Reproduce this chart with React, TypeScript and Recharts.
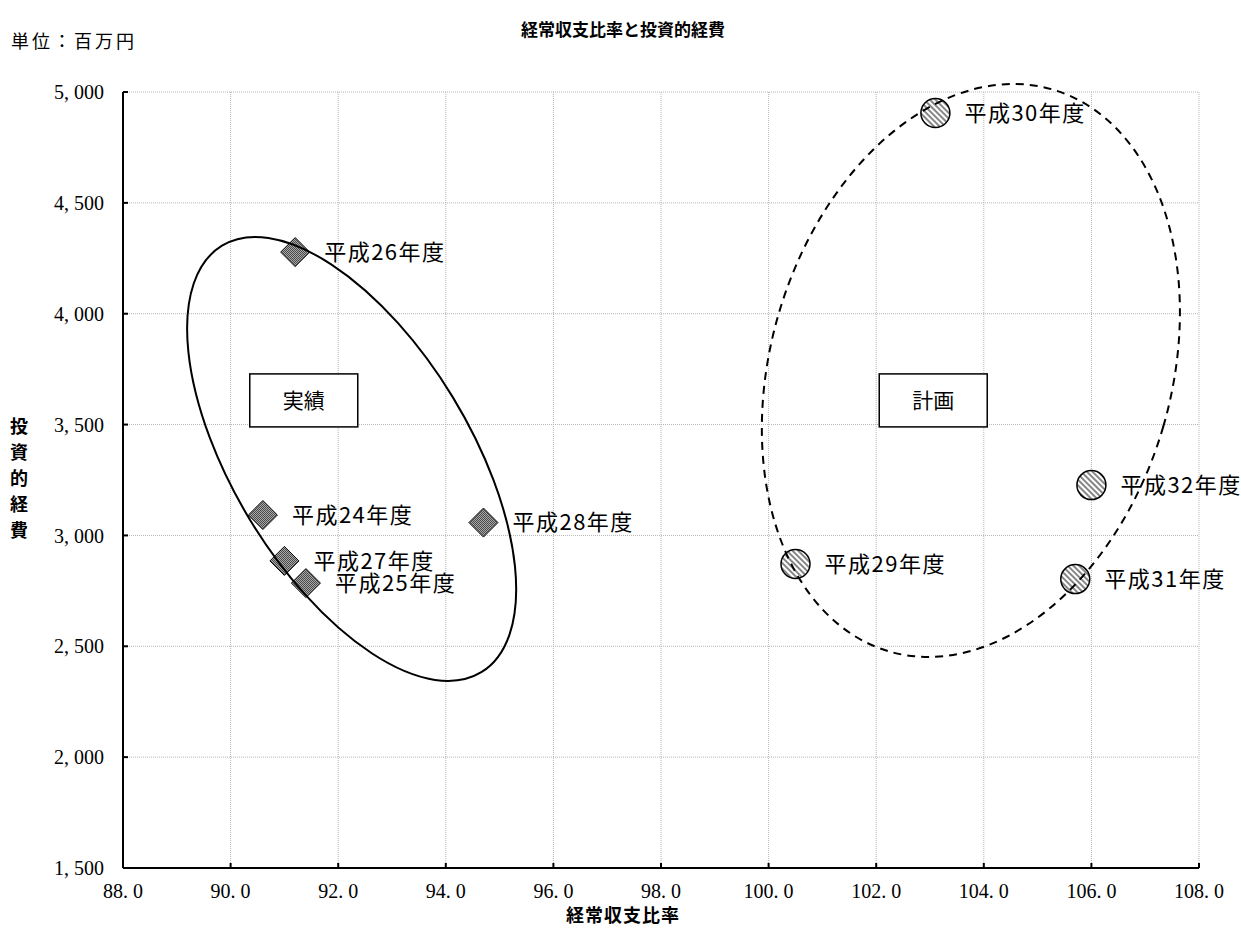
import React from "react";
import { ScatterChart, Scatter, XAxis, YAxis, CartesianGrid, ReferenceDot } from "recharts";

const SANS = '"Noto Sans CJK JP", "Noto Sans", sans-serif';
const SERIF = '"Liberation Serif", "DejaVu Serif", "Noto Sans CJK JP", serif';

// axis ticks
const xTicks = [88, 90, 92, 94, 96, 98, 100, 102, 104, 106, 108];
const yTicks = [1500, 2000, 2500, 3000, 3500, 4000, 4500, 5000];

// 実績 (diamonds)
const actualNames = ["平成24年度", "平成25年度", "平成26年度", "平成27年度", "平成28年度"];
const actualRatio = [90.6, 91.4, 91.2, 91.0, 94.7];
const actualCost = [3092, 2785, 4278, 2885, 3058];

// 計画 (circles)
const planNames = ["平成29年度", "平成30年度", "平成31年度", "平成32年度"];
const planRatio = [100.5, 103.1, 105.7, 106.0];
const planCost = [2871, 4905, 2803, 3227];

// group annotations: [centre ratio, centre cost]
const actualGroupCentre = [92.25, 3345];
const planGroupCentre = [103.76, 3744];
const actualBoxCentre = [91.36, 3609];
const planBoxCentre = [103.06, 3609];

const actualData = actualNames.map((name, i) => ({ name, x: actualRatio[i], y: actualCost[i] }));
const planData = planNames.map((name, i) => ({ name, x: planRatio[i], y: planCost[i] }));

const fmtX = (v: number) => v.toFixed(1).replace(".", ". ");
const fmtY = (v: number) => v.toLocaleString("en-US").replace(",", ", ");

function XTick({ x, y, payload }: any) {
  const axisY = y - 16;
  return (
    <g>
      <line x1={x} x2={x} y1={axisY} y2={axisY - 5} stroke="#000" strokeWidth={2} />
      <text x={x} y={y} dy="0.71em" textAnchor="middle" fontFamily={SERIF} fontSize={20} fill="#000">
        {fmtX(payload.value)}
      </text>
    </g>
  );
}

function YTick({ x, y, payload }: any) {
  const axisX = x + 19;
  return (
    <g>
      <line x1={axisX} x2={axisX + 5} y1={y} y2={y} stroke="#000" strokeWidth={2} />
      <text x={x} y={y} dy="0.36em" textAnchor="end" fontFamily={SERIF} fontSize={20} fill="#000">
        {fmtY(payload.value)}
      </text>
    </g>
  );
}

function PointLabel({ cx, cy, name }: { cx: number; cy: number; name: string }) {
  return (
    <text x={cx + 29} y={cy} dy="0.36em" fontFamily={SANS} fontSize={22} letterSpacing={1.5} fill="#000">
      {name}
    </text>
  );
}

function Diamond(props: any) {
  const { cx, cy, payload } = props;
  const r = 14.5;
  return (
    <g>
      <polygon
        points={`${cx},${cy - r} ${cx + r},${cy} ${cx},${cy + r} ${cx - r},${cy}`}
        fill="url(#checker)"
        stroke="#000"
        strokeWidth={1}
      />
      <PointLabel cx={cx} cy={cy} name={payload.name} />
    </g>
  );
}

function Hatched(props: any) {
  const { cx, cy, payload } = props;
  return (
    <g>
      <circle cx={cx} cy={cy} r={14.5} fill="url(#hatch)" stroke="#000" strokeWidth={1.5} />
      <PointLabel cx={cx} cy={cy} name={payload.name} />
    </g>
  );
}

const groupBox = (label: string) => (p: any) => (
  <g>
    <rect x={p.cx - 54} y={p.cy - 26.5} width={108} height={53} fill="#fff" stroke="#000" strokeWidth={1.5} />
    <text x={p.cx} y={p.cy} dy="0.36em" textAnchor="middle" fontFamily={SANS} fontSize={21} fill="#000">
      {label}
    </text>
  </g>
);

export default function App() {
  return (
    <div style={{ position: "absolute", left: 0, top: 0, width: 1241, height: 928, background: "#fff", overflow: "hidden" }}>
      <div
        style={{
          position: "absolute", left: 0, top: 16, width: 1246, textAlign: "center",
          fontFamily: SANS, fontWeight: "bold", fontSize: 17,
        }}
      >
        経常収支比率と投資的経費
      </div>
      <div style={{ position: "absolute", left: 11, top: 27, fontFamily: SERIF, fontSize: 18, letterSpacing: 3 }}>
        単位：百万円
      </div>
      <div
        style={{
          position: "absolute", left: 9, top: 412, width: 20, fontFamily: SANS, fontWeight: "bold",
          fontSize: 18, lineHeight: "26px", textAlign: "center",
        }}
      >
        {"投資的経費".split("").map((c) => (
          <div key={c}>{c}</div>
        ))}
      </div>
      <div
        style={{
          position: "absolute", left: 0, top: 904, width: 1246, textAlign: "center",
          fontFamily: SANS, fontWeight: "bold", fontSize: 18, lineHeight: "20px", letterSpacing: 1,
        }}
      >
        経常収支比率
      </div>

      <ScatterChart width={1241} height={928} margin={{ top: 92, right: 42, bottom: 0, left: 0 }}>
        <defs>
          <pattern id="checker" width={2} height={2} patternUnits="userSpaceOnUse">
            <rect width={2} height={2} fill="#a8a8a8" />
            <rect width={1} height={1} fill="#4a4a4a" />
            <rect x={1} y={1} width={1} height={1} fill="#4a4a4a" />
          </pattern>
          <pattern id="hatch" width={4} height={4} patternUnits="userSpaceOnUse" patternTransform="rotate(45)">
            <rect width={4} height={4} fill="#fff" />
            <line x1={0} y1={1} x2={4} y2={1} stroke="#444" strokeWidth={1.3} />
          </pattern>
        </defs>
        <CartesianGrid stroke="#b5b5b5" strokeDasharray="1 1" />
        <XAxis
          type="number"
          dataKey="x"
          domain={[88, 108]}
          ticks={xTicks}
          interval={0}
          height={60}
          tickSize={0}
          tickMargin={16}
          tickLine={false}
          tick={<XTick />}
          axisLine={{ stroke: "#000", strokeWidth: 2 }}
        />
        <YAxis
          type="number"
          dataKey="y"
          domain={[1500, 5000]}
          ticks={yTicks}
          interval={0}
          width={123}
          tickSize={0}
          tickMargin={19}
          tickLine={false}
          tick={<YTick />}
          axisLine={{ stroke: "#000", strokeWidth: 2 }}
        />
        <ReferenceDot x={actualBoxCentre[0]} y={actualBoxCentre[1]} r={1} ifOverflow="visible" shape={groupBox("実績")} />
        <ReferenceDot x={planBoxCentre[0]} y={planBoxCentre[1]} r={1} ifOverflow="visible" shape={groupBox("計画")} />
        <Scatter data={actualData} shape={<Diamond />} isAnimationActive={false} />
        <Scatter data={planData} shape={<Hatched />} isAnimationActive={false} />
        <ReferenceDot
          x={actualGroupCentre[0]}
          y={actualGroupCentre[1]}
          r={1}
          ifOverflow="visible"
          shape={(p: any) => (
            <ellipse
              cx={p.cx}
              cy={p.cy}
              rx={249.6}
              ry={118.5}
              transform={`rotate(58.7 ${p.cx} ${p.cy})`}
              fill="none"
              stroke="#000"
              strokeWidth={2}
            />
          )}
        />
        <ReferenceDot
          x={planGroupCentre[0]}
          y={planGroupCentre[1]}
          r={1}
          ifOverflow="visible"
          shape={(p: any) => (
            <ellipse
              cx={p.cx}
              cy={p.cy}
              rx={200.4}
              ry={292.6}
              transform={`rotate(16.2 ${p.cx} ${p.cy})`}
              fill="none"
              stroke="#000"
              strokeWidth={2}
              strokeDasharray="8 6"
            />
          )}
        />
      </ScatterChart>
    </div>
  );
}
